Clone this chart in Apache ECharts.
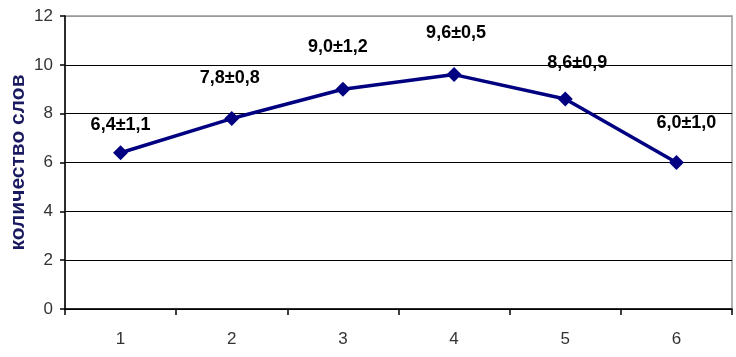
<!DOCTYPE html>
<html><head><meta charset="utf-8">
<script src="https://cdn.jsdelivr.net/npm/echarts@6/dist/echarts.min.js"></script>
<style>html,body{margin:0;padding:0;background:#fff}#c{width:736px;height:357px}</style>
</head><body><div id="c"></div>
<script>
const categories = ['1','2','3','4','5','6'];
const means = [6.4, 7.8, 9.0, 9.6, 8.6, 6.0];
const errors = ['1,1','0,8','1,2','0,5','0,9','1,0'];
const yTicks = [0, 2, 4, 6, 8, 10, 12];
const yAxisTitle = 'количество слов';

const labelOffsets = [[0,-28],[-2,-41],[-5,-42],[2,-42],[12,-36],[10,-39]];
const narrow = "'Liberation Sans Narrow', 'Liberation Sans', Arial";

const chart = echarts.init(document.getElementById('c'));
chart.setOption({
  animation: false,
  grid: {left: 65, right: 4, top: 16, bottom: 48, show: true, borderColor: '#999', borderWidth: 1.5,
         containLabel: false, outerBoundsMode: 'none'},
  xAxis: {
    type: 'category', data: categories, boundaryGap: true,
    axisLine: {lineStyle: {color: '#000', width: 1.5}},
    axisTick: {show: true, length: 6, lineStyle: {color: '#000', width: 1.5}},
    axisLabel: {color: '#333', fontFamily: narrow, fontSize: 17, margin: 22}
  },
  yAxis: {
    type: 'value', min: yTicks[0], max: yTicks[yTicks.length-1], interval: 2,
    name: yAxisTitle, nameLocation: 'middle', nameGap: 36, nameRotate: 90, nameMoveOverlap: false,
    nameTextStyle: {color: '#1a1a60', fontFamily: 'Liberation Sans, Arial', fontSize: 21, fontWeight: 'bold'},
    axisLine: {show: true, lineStyle: {color: '#000', width: 1.5}},
    axisTick: {show: true, length: 5, lineStyle: {color: '#000', width: 1.5}},
    axisLabel: {color: '#333', fontFamily: narrow, fontSize: 17, margin: 12},
    splitLine: {show: true, lineStyle: {color: ['#000','#000','#000','#000','#000','#000','#999'], width: 1.2}}
  },
  series: [{
    type: 'line',
    data: means.map((v, i) => ({
      value: v,
      label: {offset: labelOffsets[i]}
    })),
    symbol: 'diamond', symbolSize: 15,
    lineStyle: {color: '#000080', width: 3.5},
    itemStyle: {color: '#000080'},
    label: {
      show: true, position: 'inside',
      color: '#000', fontFamily: narrow, fontSize: 18, fontWeight: 'bold',
      formatter: p => means[p.dataIndex].toFixed(1).replace('.', ',') + '±' + errors[p.dataIndex]
    }
  }]
});
</script></body></html>
